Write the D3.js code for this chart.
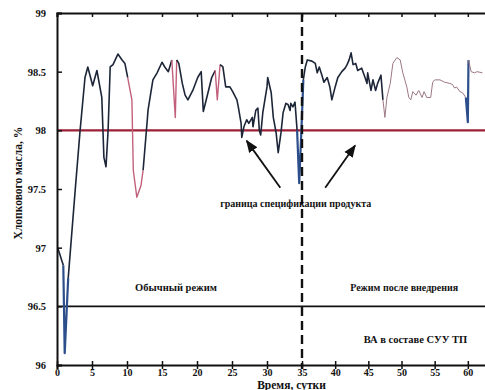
<!DOCTYPE html>
<html>
<head>
<meta charset="utf-8">
<script src="https://cdn.jsdelivr.net/npm/d3@7"></script>
<style>
  body { margin: 0; background: #fff; }
  svg { display: block; }
  text { font-family: "Liberation Serif", "DejaVu Serif", serif; fill: #111; }
</style>
</head>
<body>
<svg id="chart" width="485" height="390"></svg>
<script>
// time, days
const days = [0.1, 0.9, 1.1, 1.6, 2.6, 3.3, 4.0, 4.4, 5.1, 5.7, 6.4, 6.7, 7.0, 7.3, 7.6, 8.0, 8.7, 9.3, 9.7, 10.1,
  10.7, 10.9, 11.4, 12.0, 12.3, 12.9, 13.0, 13.7, 14.3, 15.0, 15.4, 15.9, 16.4, 16.9, 17.1, 17.4, 17.9, 18.3, 18.7, 19.4,
  20.1, 20.6, 20.9, 21.4, 22.1, 22.6, 22.9, 23.3, 23.7, 24.1, 24.7, 25.1, 25.7, 25.9, 26.3, 26.4, 26.7, 27.1, 27.4, 27.9,
  28.0, 28.4, 28.7, 28.9, 29.1, 29.4, 30.0, 30.1, 30.6, 30.9, 31.3, 31.6, 32.0, 32.3, 32.7, 33.0, 33.3, 33.4, 33.7, 34.0,
  34.3, 34.6, 34.9, 35.2, 35.5, 35.8, 36.5, 37.0, 37.3, 37.6, 38.0, 38.3, 38.8, 39.2, 39.5, 40.0, 40.4, 41.0, 41.5, 41.8,
  42.1, 42.4, 42.7, 43.1, 43.4, 44.0, 44.5, 44.8, 44.9, 45.4, 45.7, 46.1, 46.4, 46.9, 47.2, 47.5, 47.8, 48.3, 48.7, 49.3,
  49.8, 50.2, 50.8, 51.1, 51.4, 51.7, 52.2, 52.6, 53.1, 53.4, 53.8, 54.4, 54.7, 55.0, 55.8, 56.5, 57.3, 57.7, 58.0, 58.3,
  58.8, 59.2, 59.7, 60.0, 60.1, 60.5, 61.0, 61.4, 62.2];

// cottonseed oil, %
const oil = [97.00, 96.85, 96.10, 96.74, 97.49, 98.00, 98.45, 98.54, 98.38, 98.51, 98.28, 97.77, 97.69, 98.00, 98.54, 98.56, 98.65, 98.60, 98.57, 98.45,
  98.26, 97.66, 97.43, 97.53, 97.66, 98.09, 98.17, 98.43, 98.49, 98.58, 98.54, 98.50, 98.60, 98.11, 98.60, 98.57, 98.40, 98.30, 98.26, 98.34,
  98.45, 98.50, 98.16, 98.28, 98.45, 98.51, 98.26, 98.56, 98.54, 98.37, 98.37, 98.33, 98.26, 98.20, 98.06, 97.94, 98.03, 98.09, 98.06, 98.11,
  98.03, 98.17, 98.19, 98.00, 97.96, 98.15, 98.37, 98.45, 98.32, 98.11, 97.98, 97.81, 97.98, 98.15, 98.23, 98.22, 98.17, 98.23, 98.20, 98.24,
  98.00, 97.55, 97.98, 98.43, 98.54, 98.60, 98.59, 98.57, 98.49, 98.54, 98.47, 98.41, 98.45, 98.37, 98.26, 98.37, 98.45, 98.50, 98.53, 98.56,
  98.60, 98.66, 98.56, 98.57, 98.51, 98.53, 98.45, 98.40, 98.49, 98.34, 98.43, 98.34, 98.40, 98.47, 98.26, 98.11, 98.28, 98.40, 98.57, 98.62,
  98.60, 98.49, 98.37, 98.28, 98.26, 98.33, 98.30, 98.34, 98.28, 98.33, 98.28, 98.28, 98.41, 98.43, 98.43, 98.41, 98.40, 98.39, 98.36, 98.37,
  98.33, 98.32, 98.28, 98.07, 98.60, 98.50, 98.49, 98.50, 98.49];

// how each stretch of the trace is coloured in the scan
const stretches = [
  [0, 0.9, "dark"], [0.9, 1.6, "blue"], [1.6, 10.1, "dark"], [10.1, 12.3, "pink"],
  [12.3, 16.4, "dark"], [16.4, 17.1, "pink"], [17.1, 22.6, "dark"], [22.6, 23.3, "pink"],
  [23.3, 34.3, "dark"], [34.3, 35.2, "blue"], [35.2, 47.2, "dark"], [47.2, 59.7, "faint"],
  [59.7, 60.1, "blue"], [60.1, 62.2, "faint"]
];

const yTicks = [96, 96.5, 97, 97.5, 98, 98.5, 99];
const xTicks = [0, 5, 10, 15, 20, 25, 30, 35, 40, 45, 50, 55, 60];
const specLimit = 98;
const lowerLine = 96.5;
const switchDay = 35;

const notes = [
  { text: "граница спецификации продукта", t: 34.1, v: 97.38, size: 10 },
  { text: "Обычный режим", t: 17.0, v: 96.66, size: 10.5 },
  { text: "Режим после внедрения", t: 50.4, v: 96.66, size: 10 },
  { text: "ВА в составе СУУ ТП", t: 52.1, v: 96.22, size: 10.5 }
];
const arrows = [
  { from: [31.9, 97.51], to: [27.1, 97.91] },
  { from: [38.5, 97.51], to: [43.0, 97.87] }
];

const styles = {
  dark:  { color: "#1d2638", width: 1.6 },
  blue:  { color: "#2c4f8c", width: 2.2 },
  pink:  { color: "#c2607c", width: 1.4 },
  faint: { color: "#9c7886", width: 1.0 }
};

const svg = d3.select("#chart");

// the scan is slightly stretched left of day 35, hence the bent x scale
const x = d3.scaleLinear().domain([0, 35, 65]).range([57, 302, 501]);
const y = d3.scaleLinear().domain([96, 99]).range([365, 13]);

const pts = days.map((d, i) => ({ t: d, v: oil[i] }));

// reference lines
svg.append("line")
  .attr("x1", x(0)).attr("x2", 485)
  .attr("y1", y(specLimit)).attr("y2", y(specLimit))
  .attr("stroke", "#9b1f36").attr("stroke-width", 2.2);

svg.append("line")
  .attr("x1", x(0)).attr("x2", 485)
  .attr("y1", y(lowerLine)).attr("y2", y(lowerLine))
  .attr("stroke", "#111").attr("stroke-width", 1.6);

// trace
const line = d3.line().x(d => x(d.t)).y(d => y(d.v));

svg.append("g").selectAll("path")
  .data(stretches)
  .join("path")
  .attr("fill", "none")
  .attr("stroke-linejoin", "round")
  .attr("stroke", s => styles[s[2]].color)
  .attr("stroke-width", s => styles[s[2]].width)
  .attr("d", s => line(pts.filter(p => p.t >= s[0] - 1e-9 && p.t <= s[1] + 1e-9)));

// switch-over marker
svg.append("line")
  .attr("x1", x(switchDay)).attr("x2", x(switchDay))
  .attr("y1", y(99)).attr("y2", y(96) + 4)
  .attr("stroke", "#111").attr("stroke-width", 2.4)
  .attr("stroke-dasharray", "9,5");

// axes
const axLeft = svg.append("g")
  .attr("transform", "translate(" + x(0) + ",0)")
  .call(d3.axisLeft(y).tickValues(yTicks).tickFormat(d => String(d)).tickSize(-5).tickPadding(11));

const axBottom = svg.append("g")
  .attr("transform", "translate(0," + y(96) + ")")
  .call(d3.axisBottom(x).tickValues(xTicks).tickSize(4).tickPadding(0));
axBottom.selectAll(".tick line").attr("y1", -4);

const axTop = svg.append("g")
  .attr("transform", "translate(0," + y(99) + ")")
  .call(d3.axisTop(x).tickValues(xTicks).tickSize(-4).tickFormat(""));

[axLeft, axBottom, axTop].forEach(g => {
  g.select(".domain").attr("stroke", "#111").attr("stroke-width", 2);
  g.selectAll(".tick line").attr("stroke", "#111").attr("stroke-width", 1.5);
  g.selectAll(".tick text")
    .attr("font-family", "Liberation Serif, serif")
    .attr("font-size", 10.5)
    .attr("font-weight", "bold")
    .attr("fill", "#222");
});
axBottom.selectAll(".tick text").attr("font-size", 10);

// axis titles
svg.append("text")
  .attr("transform", "translate(22," + y(97.55) + ") rotate(-90)")
  .attr("text-anchor", "middle")
  .attr("font-size", 11.5)
  .attr("font-weight", "bold")
  .text("Хлопкового масла, %");

svg.append("text")
  .attr("x", x(33.5)).attr("y", 389)
  .attr("text-anchor", "middle")
  .attr("font-size", 11.5)
  .attr("font-weight", "bold")
  .text("Время, сутки");

// annotations
svg.append("g").selectAll("text")
  .data(notes)
  .join("text")
  .attr("x", d => x(d.t))
  .attr("y", d => y(d.v))
  .attr("dy", "0.35em")
  .attr("text-anchor", "middle")
  .attr("font-size", d => d.size)
  .attr("font-weight", "bold")
  .text(d => d.text);

svg.append("defs").append("marker")
  .attr("id", "head")
  .attr("viewBox", "0 0 10 10")
  .attr("refX", 9).attr("refY", 5)
  .attr("markerWidth", 7).attr("markerHeight", 7)
  .attr("orient", "auto")
  .append("path")
  .attr("d", "M0,1L10,5L0,9Z")
  .attr("fill", "#111");

svg.append("g").selectAll("line")
  .data(arrows)
  .join("line")
  .attr("x1", d => x(d.from[0])).attr("y1", d => y(d.from[1]))
  .attr("x2", d => x(d.to[0])).attr("y2", d => y(d.to[1]))
  .attr("stroke", "#111").attr("stroke-width", 1.8)
  .attr("marker-end", "url(#head)");
</script>
</body>
</html>
